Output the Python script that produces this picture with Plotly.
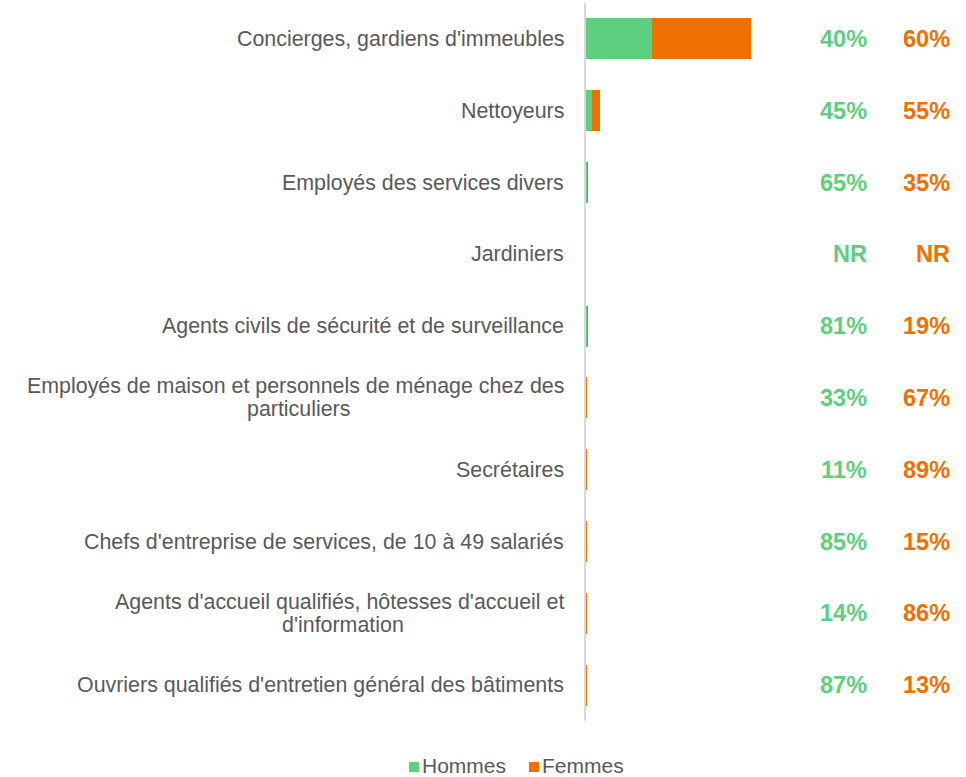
import plotly.graph_objects as go

categories = [
    "Concierges, gardiens d'immeubles",
    "Nettoyeurs",
    "Employés des services divers",
    "Jardiniers",
    "Agents civils de sécurité et de surveillance",
    "Employés de maison et personnels de ménage chez des<br>particuliers",
    "Secrétaires",
    "Chefs d'entreprise de services, de 10 à 49 salariés",
    "Agents d'accueil qualifiés, hôtesses d'accueil et<br>d'information",
    "Ouvriers qualifiés d'entretien général des bâtiments",
]
hommes = [6.6, 0.63, 0.13, 0.0, 0.16, 0.017, 0.006, 0.043, 0.007, 0.043]
femmes = [9.9, 0.77, 0.07, 0.0, 0.04, 0.033, 0.044, 0.007, 0.043, 0.007]
pct_hommes = ["40%", "45%", "65%", "NR", "81%", "33%", "11%", "85%", "14%", "87%"]
pct_femmes = ["60%", "55%", "35%", "NR", "19%", "67%", "89%", "15%", "86%", "13%"]
series_names = ["Hommes", "Femmes"]

GREEN = "#5ECF7F"
ORANGE = "#EE7100"
GRAY = "#595959"
FONT = "Liberation Sans, Arial, sans-serif"
LABEL_SIZE = 21.4
# estimated pixel width of the first line of two-line labels (for centering line 2)
first_line_width = {5: 540, 8: 450}

# plot area in pixels (for converting legend positions to paper coordinates)
PL, PR, PT, PB = 586, 966, 3, 721
def px_x(px):
    return (px - PL) / (PR - PL)
def px_y(py):
    return (PB - py) / (PB - PT)

fig = go.Figure()
fig.add_trace(go.Bar(y=categories, x=hommes, orientation="h", name=series_names[0],
                     marker=dict(color=GREEN, line=dict(width=0))))
fig.add_trace(go.Bar(y=categories, x=femmes, orientation="h", name=series_names[1],
                     marker=dict(color=ORANGE, line=dict(width=0))))

annotations = []
for i, (cat, ph, pf) in enumerate(zip(categories, pct_hommes, pct_femmes)):
    lines = cat.split("<br>")
    lab_font = dict(family=FONT, size=LABEL_SIZE, color=GRAY)
    if len(lines) == 1:
        annotations.append(dict(xref="paper", yref="y", x=0, y=cat, text=cat,
                                xanchor="right", yanchor="middle", xshift=-20,
                                showarrow=False, font=lab_font))
    else:
        annotations.append(dict(xref="paper", yref="y", x=0, y=cat, text=lines[0],
                                xanchor="right", yanchor="middle", xshift=-20, yshift=11.5,
                                showarrow=False, font=lab_font))
        annotations.append(dict(xref="paper", yref="y", x=0, y=cat, text=lines[1],
                                xanchor="center", yanchor="middle",
                                xshift=-18 - first_line_width[i] / 2, yshift=-11.5,
                                showarrow=False, font=lab_font))
    annotations.append(dict(xref="paper", yref="y", x=px_x(869), y=cat,
                            text="<b>" + ph + "</b>", xanchor="right", yanchor="middle",
                            showarrow=False, font=dict(family=FONT, size=23.5, color=GREEN)))
    annotations.append(dict(xref="paper", yref="y", x=px_x(952), y=cat,
                            text="<b>" + pf + "</b>", xanchor="right", yanchor="middle",
                            showarrow=False, font=dict(family=FONT, size=23.5, color=ORANGE)))

# legend drawn as squares + text at the bottom
shapes = []
legend_items = [(series_names[0], GREEN, 409), (series_names[1], ORANGE, 529)]
for name, col, sx in legend_items:
    shapes.append(dict(type="rect", xref="paper", yref="paper",
                       x0=px_x(sx), x1=px_x(sx + 10), y0=px_y(772), y1=px_y(762),
                       fillcolor=col, line=dict(width=0)))
    annotations.append(dict(xref="paper", yref="paper", x=px_x(sx + 12), y=px_y(765.5),
                            text=name, xanchor="left", yanchor="middle", showarrow=False,
                            borderpad=0, font=dict(family=FONT, size=21, color=GRAY)))

fig.update_layout(
    width=966, height=777,
    barmode="stack", bargap=0.43,
    margin=dict(l=PL, r=966 - PR, t=PT, b=777 - PB, autoexpand=False),
    plot_bgcolor="white", paper_bgcolor="white",
    font=dict(family=FONT, size=20, color=GRAY),
    xaxis=dict(range=[0, 38], visible=False, fixedrange=True),
    yaxis=dict(autorange="reversed", showticklabels=False, showline=True,
               linecolor="#D9D9D9", linewidth=2, showgrid=False, zeroline=False,
               ticks="", fixedrange=True),
    showlegend=False,
    annotations=annotations,
    shapes=shapes,
)

fig.write_html("out.html", config={"displayModeBar": False},
               post_script="document.body.style.margin='0';document.body.style.overflow='hidden';")
